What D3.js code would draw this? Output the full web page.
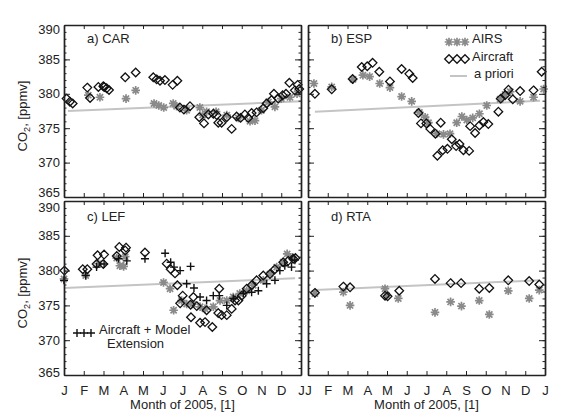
<!DOCTYPE html>
<html><head><meta charset="utf-8">
<script src="https://cdn.jsdelivr.net/npm/d3@7"></script>
<style>
html,body{margin:0;padding:0;background:#fff;}
text{font-family:"Liberation Sans",Arial,sans-serif;fill:#222;}
</style></head>
<body><svg id="c" width="568" height="419"></svg>
<script>
// ---------- DATA ----------
const monthLabels = ["J","F","M","A","M","J","J","A","S","O","N","D","J"];
const yTicks = [365,370,375,380,385,390];
const panelTitles = ["a) CAR","b) ESP","c) LEF","d) RTA"];
const legendLabels = ["AIRS","Aircraft","a priori"];
const modelLegend = ["Aircraft + Model","Extension"];
const xTitle = "Month of 2005, [1]";

// a priori lines: [startMonth, startValue, endMonth, endValue]
const aprioriCAR = [0.2, 377.5, 12, 378.9];
const aprioriESP = [0.35, 377.4, 11.75, 379.0];
const aprioriLEF = [0, 377.5, 11.7, 378.9];
const aprioriRTA = [0.35, 377.2, 11.71, 378.6];

// [month, ppmv]
const carAircraft = [[0.13,379.3],[0.3,378.85],[0.44,378.6],[1.18,380.9],[1.32,379.4],[1.74,381.0],[1.99,381.1],[2.04,381.0],[2.16,380.8],[2.28,380.55],[3.1,382.4],[3.63,383.1],[4.52,382.4],[4.69,382.1],[4.86,381.9],[5.11,382.0],[5.5,381.3],[5.74,381.9],[5.87,378.0],[6.07,377.7],[6.38,378.2],[6.85,376.6],[7.09,375.7],[7.31,377.0],[7.56,377.1],[7.73,376.9],[7.81,375.8],[7.98,375.8],[8.24,376.6],[8.49,374.9],[8.74,376.7],[8.94,376.5],[9.16,377.0],[9.33,376.5],[9.5,377.2],[9.75,377.3],[10.09,377.9],[10.26,378.6],[10.51,379.1],[10.63,380.0],[10.85,379.3],[11.07,379.8],[11.24,380.0],[11.41,381.6],[11.69,380.5],[11.83,381.3],[11.91,380.7]];
const carAIRS = [[1.23,379.8],[1.82,379.5],[3.14,379.3],[3.63,380.5],[4.56,378.6],[4.8,378.3],[5.05,378.0],[5.53,378.6],[5.7,378.2],[6.21,377.6],[6.88,378.0],[7.02,376.9],[7.22,377.4],[7.7,377.4],[8.24,376.9],[8.83,376.5],[9.42,376.0],[9.67,376.1],[10.0,377.6],[10.35,378.8],[10.68,378.1],[11.0,379.3],[11.44,379.5],[11.8,380.0]];

const espAircraft = [[0.35,380.0],[1.2,380.65],[2.26,382.15],[2.72,383.9],[3.0,384.0],[3.27,384.5],[3.61,383.2],[4.15,381.8],[4.74,383.6],[5.13,382.9],[5.3,382.3],[5.59,377.2],[5.72,375.7],[5.99,375.7],[6.19,374.9],[6.45,374.2],[6.72,375.8],[6.55,371.0],[6.82,371.8],[7.06,372.0],[7.28,373.4],[7.5,372.4],[7.67,372.7],[7.87,371.8],[8.16,371.7],[8.21,375.3],[8.46,374.3],[8.68,375.4],[8.88,375.9],[9.13,375.6],[9.64,377.4],[9.76,379.3],[9.98,379.8],[10.15,380.6],[10.37,379.2],[10.74,380.4],[11.42,380.5],[11.83,383.2]];
const espAIRS = [[0.3,381.5],[1.2,381.0],[2.28,382.1],[2.78,382.7],[3.12,382.5],[3.63,381.5],[4.15,380.9],[4.74,379.6],[5.25,378.9],[5.64,377.3],[5.93,376.6],[6.1,375.8],[6.52,374.2],[6.86,374.1],[7.19,374.2],[7.53,375.8],[7.79,376.7],[8.04,376.2],[8.34,376.5],[8.68,377.1],[9.05,378.3],[9.73,379.2],[9.98,379.9],[10.24,380.3],[10.74,378.9],[11.42,379.5],[11.93,380.7]];

const lefAircraft = [[0.02,380.0],[0.95,380.2],[1.18,380.2],[1.65,380.95],[1.99,380.95],[1.7,382.2],[2.03,382.3],[2.67,382.1],[2.8,383.4],[3.14,383.3],[3.1,382.9],[4.1,382.6],[5.2,381.0],[5.4,380.2],[5.62,379.6],[5.74,377.9],[6.01,376.4],[5.88,375.3],[6.41,375.1],[6.43,373.3],[6.55,376.2],[6.72,374.9],[6.89,372.5],[7.14,372.6],[7.22,374.3],[7.51,371.9],[7.81,373.9],[7.86,377.4],[7.98,373.6],[8.24,373.6],[8.49,374.5],[8.66,375.7],[8.83,375.7],[9.0,376.4],[9.25,377.4],[9.5,377.9],[9.75,378.6],[10.09,379.3],[10.43,379.5],[10.68,380.2],[11.1,381.2],[11.35,381.4],[11.6,381.7],[11.72,381.8]];
const lefAIRS = [[0.0,378.8],[1.1,379.3],[1.75,381.0],[2.67,381.8],[3.1,382.0],[2.83,380.7],[3.02,380.6],[5.04,378.3],[5.37,377.4],[5.55,374.3],[5.95,375.7],[6.21,375.2],[6.5,375.2],[6.89,374.8],[7.14,374.5],[7.56,374.8],[7.9,375.7],[8.24,375.7],[8.57,376.2],[8.9,376.7],[9.25,377.1],[9.58,377.9],[10.09,378.6],[10.43,379.5],[10.77,380.5],[11.1,381.2],[11.3,382.4],[11.57,381.9]];
const lefModel = [[0.0,378.6],[1.1,379.3],[1.65,380.5],[2.03,380.95],[2.76,381.7],[3.18,381.4],[4.1,381.7],[5.12,382.5],[5.4,381.2],[5.57,380.5],[5.88,380.0],[6.21,378.1],[6.41,380.6],[6.58,377.5],[6.89,376.2],[7.22,375.7],[7.56,376.4],[7.86,376.4],[8.24,375.0],[8.57,376.0],[9.08,376.7],[9.5,376.9],[9.84,377.1],[10.26,378.1],[10.68,378.6],[10.93,380.0],[11.18,380.7],[11.52,380.5],[11.69,381.5]];

const rtaAircraft = [[0.35,376.8],[1.79,377.7],[2.13,377.6],[3.9,376.4],[4.03,376.3],[4.62,377.1],[6.43,378.8],[7.22,378.2],[7.75,378.2],[8.67,377.4],[9.18,377.5],[10.14,378.6],[11.2,378.5],[11.71,378.0]];
const rtaAIRS = [[0.35,376.7],[1.79,376.9],[2.13,375.0],[3.9,377.4],[3.99,376.4],[4.57,376.0],[6.43,374.0],[7.22,375.5],[7.77,374.9],[8.67,375.7],[9.18,373.7],[10.14,377.1],[11.2,376.0],[11.71,377.2]];

// ---------- LAYOUT ----------
const svg = d3.select("#c");
const cols = [[64,301],[308,545]];
const rows = [[25,197],[201,375]];
const panels = [
  {title:panelTitles[0], col:0,row:0, apriori:aprioriCAR, airs:carAIRS, air:carAircraft, model:null},
  {title:panelTitles[1], col:1,row:0, apriori:aprioriESP, airs:espAIRS, air:espAircraft, model:null, legend:true},
  {title:panelTitles[2], col:0,row:1, apriori:aprioriLEF, airs:lefAIRS, air:lefAircraft, model:lefModel},
  {title:panelTitles[3], col:1,row:1, apriori:aprioriRTA, airs:rtaAIRS, air:rtaAircraft, model:null}
];

const diamond = r => `M0,${-r}L${r},0L0,${r}L${-r},0Z`;
const asterisk = r => {const d=r*0.72;return `M${-r},0L${r},0M0,${-r}L0,${r}M${-d},${-d}L${d},${d}M${-d},${d}L${d},${-d}`;};
const plus = r => `M${-r},0L${r},0M0,${-r}L0,${r}`;

function drawAirs(g, pts){
  g.selectAll(null).data(pts).join("path")
    .attr("transform",d=>`translate(${d[0]},${d[1]})`)
    .attr("d",asterisk(4.3)).attr("stroke","#8a8a8a").attr("stroke-width",1.7).attr("fill","none");
}
function drawAir(g, pts){
  g.selectAll(null).data(pts).join("path")
    .attr("transform",d=>`translate(${d[0]},${d[1]})`)
    .attr("d",diamond(4.3)).attr("stroke","#111").attr("stroke-width",1.3).attr("fill","none");
}
function drawPlus(g, pts){
  g.selectAll(null).data(pts).join("path")
    .attr("transform",d=>`translate(${d[0]},${d[1]})`)
    .attr("d",plus(4)).attr("stroke","#111").attr("stroke-width",1.4).attr("fill","none");
}

panels.forEach(p=>{
  const [x0,x1] = cols[p.col], [y0,y1] = rows[p.row];
  const x = d3.scaleLinear().domain([0,12]).range([x0,x1]);
  const y = d3.scaleLinear().domain([365,390]).range([y1,y0]);
  const g = svg.append("g");

  const a = p.apriori;
  g.append("line").attr("x1",x(a[0])).attr("y1",y(a[1])).attr("x2",x(a[2])).attr("y2",y(a[3]))
    .attr("stroke","#c4c4c4").attr("stroke-width",2);

  drawAirs(g, p.airs.map(d=>[x(d[0]),y(d[1])]));
  if(p.model) drawPlus(g, p.model.map(d=>[x(d[0]),y(d[1])]));
  drawAir(g, p.air.map(d=>[x(d[0]),y(d[1])]));

  const months = d3.range(0,13);
  const axStyle = s => s.call(gg=>gg.select(".domain").attr("stroke","#222").attr("stroke-width",1.4))
                        .call(gg=>gg.selectAll(".tick line").attr("stroke","#222").attr("stroke-width",1));
  const bottom = g.append("g").attr("transform",`translate(0,${y1})`)
    .call(d3.axisBottom(x).tickValues(months).tickSizeInner(-4).tickSizeOuter(0)
      .tickFormat((d,i)=> p.row===1 ? monthLabels[i] : ""));
  axStyle(bottom);
  bottom.selectAll(".tick text").attr("y",11).attr("font-size",13).attr("fill","#222");
  const top = g.append("g").attr("transform",`translate(0,${y0})`)
    .call(d3.axisTop(x).tickValues(months).tickSizeInner(-4).tickSizeOuter(0).tickFormat(""));
  axStyle(top);
  const minor = d3.range(365,391);
  const leftMinor = g.append("g").attr("transform",`translate(${x0},0)`)
    .call(d3.axisLeft(y).tickValues(minor).tickSizeInner(-2.5).tickSizeOuter(0).tickFormat(""));
  axStyle(leftMinor);
  const left = g.append("g").attr("transform",`translate(${x0},0)`)
    .call(d3.axisLeft(y).tickValues(yTicks).tickSizeInner(-6).tickSizeOuter(0)
      .tickFormat(d=> p.col===0 ? d : ""));
  axStyle(left);
  const topShift = p.row===0 ? 4 : 6, botShift = p.row===0 ? -5 : -3;
  left.selectAll(".tick text").attr("x",-4).attr("font-size",13).attr("fill","#222")
    .attr("transform",d=> d===390 ? `translate(0,${topShift})` : d===365 ? `translate(0,${botShift})` : null);
  const rightMinor = g.append("g").attr("transform",`translate(${x1},0)`)
    .call(d3.axisRight(y).tickValues(minor).tickSizeInner(-2.5).tickSizeOuter(0).tickFormat(""));
  axStyle(rightMinor);
  const right = g.append("g").attr("transform",`translate(${x1},0)`)
    .call(d3.axisRight(y).tickValues(yTicks).tickSizeInner(-6).tickSizeOuter(0).tickFormat(""));
  axStyle(right);

  g.append("text").attr("x",x0+23).attr("y",y0+18+(p.row?2:0)).attr("font-size",13).text(p.title);

  if(p.col===0){
    const t = g.append("text").attr("transform",`translate(27,${(y0+y1)/2+5}) rotate(-90)`)
      .attr("text-anchor","middle").attr("font-size",13);
    t.append("tspan").text("CO");
    t.append("tspan").attr("font-size",9).attr("dy",3).text("2");
    t.append("tspan").attr("dy",-3).text(", [ppmv]");
  }
  if(p.row===1){
    g.append("text").attr("x",(x0+x1)/2).attr("y",409).attr("text-anchor","middle").attr("font-size",13).text(xTitle);
  }

  if(p.legend){
    const lx=[449,457,465];
    drawAirs(g, lx.map(v=>[v,42]));
    drawAir(g, lx.map(v=>[v,59]));
    g.append("line").attr("x1",450).attr("x2",467).attr("y1",76).attr("y2",76).attr("stroke","#c4c4c4").attr("stroke-width",2);
    g.append("text").attr("x",472).attr("y",43).attr("font-size",13).text(legendLabels[0]);
    g.append("text").attr("x",472).attr("y",61).attr("font-size",13).text(legendLabels[1]);
    g.append("text").attr("x",474).attr("y",78).attr("font-size",13).text(legendLabels[2]);
  }
  if(p.model){
    drawPlus(g, [77,84,91].map(v=>[v,333]));
    g.append("text").attr("x",99).attr("y",334).attr("font-size",13).text(modelLegend[0]);
    g.append("text").attr("x",107).attr("y",348).attr("font-size",13).text(modelLegend[1]);
  }
});
</script></body></html>
